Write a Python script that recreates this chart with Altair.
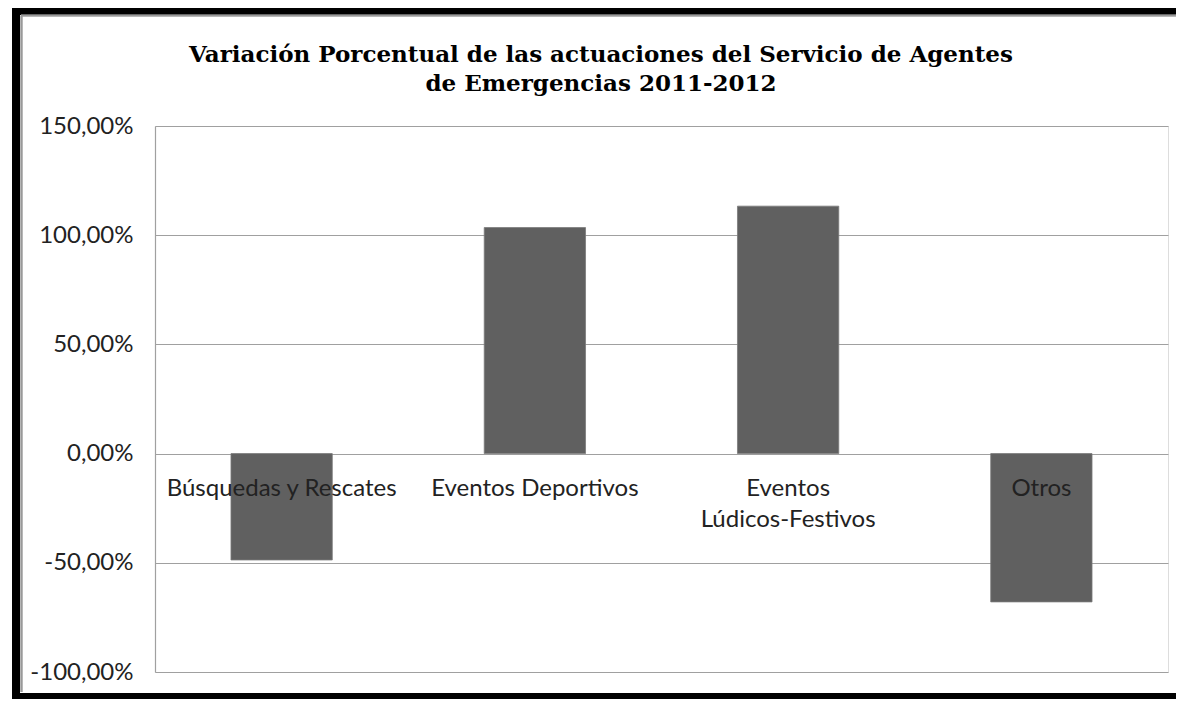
import altair as alt
import pandas as pd

categories = ["Búsquedas y Rescates", "Eventos Deportivos", "Eventos\nLúdicos-Festivos", "Otros"]
variation = [-48.7, 103.5, 113.3, -67.9]
y_ticks = [-100, -50, 0, 50, 100, 150]
title_lines = ["Variación Porcentual de las actuaciones del Servicio de Agentes",
               "de Emergencias 2011-2012"]

df = pd.DataFrame({"cat": categories, "val": variation, "zero": [0] * len(categories)})
title_df = pd.DataFrame({"title": ["\n".join(title_lines)]})

W, H = 1013, 546
label_font = "Lato"
text_color = "#222222"
grid_color = "#a0a0a0"

x_enc = alt.X("cat:N", sort=categories, axis=None,
              scale=alt.Scale(paddingInner=0.6, paddingOuter=0.3))
y_scale = alt.Scale(domain=[-100, 150], nice=False)

bars = alt.Chart(df).mark_bar(color="#606060", stroke="#7a7a7a", strokeWidth=0.8).encode(
    x=x_enc,
    y=alt.Y("val:Q", scale=y_scale, title=None,
            axis=alt.Axis(values=y_ticks, ticks=False, labelPadding=22,
                          labelFont=label_font, labelFontSize=24, labelColor=text_color,
                          labelExpr="(datum.value < 0 ? '-' : '') + replace(format(abs(datum.value), '.2f'), '.', ',') + '%'",
                          grid=True, gridColor=grid_color, gridWidth=1.2,
                          domain=True, domainColor=grid_color, domainWidth=1.2)),
)

labels = alt.Chart(df).mark_text(
    font=label_font, fontSize=24, color=text_color, baseline="alphabetic",
    align="center", dy=42, lineBreak="\n", lineHeight=31
).encode(
    x=x_enc,
    y=alt.Y("zero:Q", scale=y_scale),
    text="cat:N",
)

title = alt.Chart(title_df).mark_text(
    font="DejaVu Serif", fontWeight="bold", fontSize=23, color="#000000",
    align="center", baseline="middle", lineBreak="\n", lineHeight=29
).encode(x=alt.value(446), y=alt.value(-71), text="title:N")

# decorative outer frame (black border of the original picture)
frame_black = "#000000"
left_bar = alt.Chart(df).mark_rule(color=frame_black, strokeWidth=8).encode(
    x=alt.value(-139), y=alt.value(-120), y2=alt.value(573))
top_bar = alt.Chart(df).mark_rule(color=frame_black, strokeWidth=9).encode(
    y=alt.value(-115.5), x=alt.value(-143), x2=alt.value(1029))
bottom_bar = alt.Chart(df).mark_rule(color=frame_black, strokeWidth=6).encode(
    y=alt.value(570), x=alt.value(-143), x2=alt.value(1029))
left_inner = alt.Chart(df).mark_rule(color="#999999", strokeWidth=1.5).encode(
    x=alt.value(-133.5), y=alt.value(-110.5), y2=alt.value(566))
top_inner = alt.Chart(df).mark_rule(color="#999999", strokeWidth=1.5).encode(
    y=alt.value(-110.5), x=alt.value(-134), x2=alt.value(1029))

chart = alt.layer(bars, labels, title, left_bar, top_bar, bottom_bar, left_inner, top_inner).properties(
    width=W, height=H,
    autosize=alt.AutoSizeParams(type="none"),
    padding={"left": 147, "top": 118, "right": 8, "bottom": 27},
).configure_view(stroke=None).configure(background="white")

chart.save("out.html", embed_options={"renderer": "svg", "actions": False})
